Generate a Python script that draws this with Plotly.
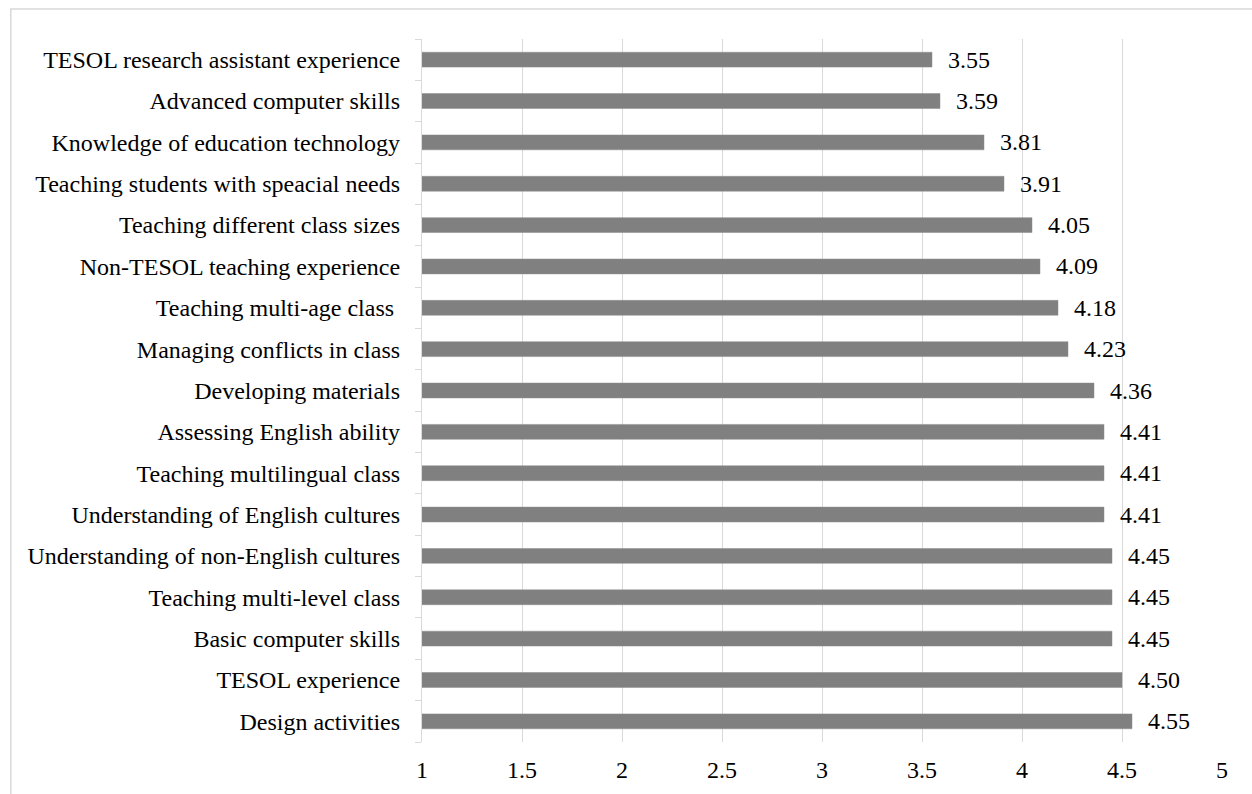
import plotly.graph_objects as go

# Mean ratings, listed from the bottom bar to the top bar
skills = [
    "Design activities",
    "TESOL experience",
    "Basic computer skills",
    "Teaching multi-level class",
    "Understanding of non-English cultures",
    "Understanding of English cultures",
    "Teaching multilingual class",
    "Assessing English ability",
    "Developing materials",
    "Managing conflicts in class",
    "Teaching multi-age class ",
    "Non-TESOL teaching experience",
    "Teaching different class sizes",
    "Teaching students with speacial needs",
    "Knowledge of education technology",
    "Advanced computer skills",
    "TESOL research assistant experience",
]
means = [4.55, 4.50, 4.45, 4.45, 4.45, 4.41, 4.41, 4.41, 4.36, 4.23,
         4.18, 4.09, 4.05, 3.91, 3.81, 3.59, 3.55]
x_ticks = [1, 1.5, 2, 2.5, 3, 3.5, 4, 4.5, 5]
x_tick_text = ["1", "1.5", "2", "2.5", "3", "3.5", "4", "4.5", "5"]

FONT = "Liberation Serif, Times New Roman, serif"
FS = 24
AXIS_MIN = 1

# Bars grow from the left edge of the axis (value 1) out to each mean
fig = go.Figure(
    go.Bar(
        x=[m - AXIS_MIN for m in means],
        y=skills,
        base=AXIS_MIN,
        orientation="h",
        marker=dict(color="#808080", line=dict(color="#8c8c8c", width=0.5)),
        width=0.36,
        hoverinfo="skip",
    )
)

for s, m in zip(skills, means):
    fig.add_annotation(
        x=m, y=s, text=f"{m:.2f}", showarrow=False,
        xanchor="left", yanchor="middle", xshift=14,
        font=dict(family=FONT, size=FS, color="#000000"),
    )

# Light frame around the chart area
fig.add_shape(
    type="rect", xref="paper", yref="paper",
    x0=-0.514, x1=1.1, y0=-0.2, y1=1.0427,
    line=dict(color="#d9d9d9", width=1.5), fillcolor="rgba(0,0,0,0)",
    layer="below",
)

fig.update_layout(
    width=1252, height=794,
    margin=dict(l=422, r=30, t=39, b=52),
    paper_bgcolor="white", plot_bgcolor="white",
    font=dict(family=FONT, size=FS, color="#000000"),
    showlegend=False,
)
fig.update_xaxes(
    range=[1, 5], tickvals=x_ticks, ticktext=x_tick_text,
    showgrid=True, gridcolor="#d9d9d9", gridwidth=1.2,
    zeroline=False, showline=False, ticks="",
    ticklabelstandoff=11,
    tickfont=dict(family=FONT, size=FS, color="#000000"),
)
fig.update_yaxes(
    showline=True, linecolor="#d9d9d9", linewidth=1.2,
    ticks="outside", tickson="boundaries", ticklen=6, tickcolor="#d9d9d9",
    showgrid=False, ticklabelstandoff=16,
    tickfont=dict(family=FONT, size=FS, color="#000000"),
)

fig.write_html("out.html")
